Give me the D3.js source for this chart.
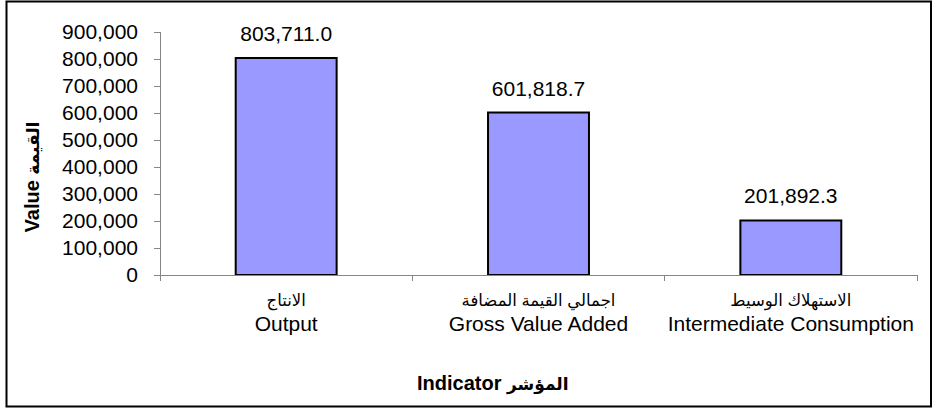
<!DOCTYPE html>
<html>
<head>
<meta charset="utf-8">
<script src="https://cdn.jsdelivr.net/npm/d3@7/dist/d3.min.js"></script>
<style>
  html, body { margin: 0; padding: 0; background: #fff; }
  svg { display: block; }
  text { font-family: "Liberation Sans", Arial, "DejaVu Sans", sans-serif; fill: #000; }
</style>
</head>
<body>
<svg id="chart" width="933" height="408"></svg>
<script>
// Indicators (Arabic / English) and their values
const categoriesAr = ["الانتاج", "اجمالي القيمة المضافة", "الاستهلاك الوسيط"];
const categoriesEn = ["Output", "Gross Value Added", "Intermediate Consumption"];
const values = [803711.0, 601818.7, 201892.3];
const yTicks = [0, 100000, 200000, 300000, 400000, 500000, 600000, 700000, 800000, 900000];
const yTitleEn = "Value", yTitleAr = "القيمة";
const xTitleEn = "Indicator", xTitleAr = "المؤشر";

const svg = d3.select("#chart");
const W = 933, H = 408;
const plot = { left: 160, right: 917, top: 32, bottom: 275 };
const axisColor = "#868686";
const fsText = 21, fsArabic = 16.5, fsTitle = 20, fsTitleAr = 17;

svg.append("rect").attr("width", W).attr("height", H).attr("fill", "#fff");

// Outer frame
svg.append("rect")
  .attr("x", 6.5).attr("y", 1.5)
  .attr("width", 924.5).attr("height", 405)
  .attr("fill", "none").attr("stroke", "#000").attr("stroke-width", 2);

const x = d3.scaleBand()
  .domain(categoriesEn)
  .range([plot.left, plot.right])
  .paddingInner(0.6)
  .paddingOuter(0.3);

const y = d3.scaleLinear()
  .domain([0, 900000])
  .range([plot.bottom, plot.top]);

// Y axis
const yAxis = svg.append("g")
  .attr("transform", `translate(${plot.left},0)`)
  .call(d3.axisLeft(y).tickValues(yTicks).tickSize(6).tickPadding(16)
    .tickFormat(d3.format(",")));
yAxis.select(".domain").remove();
yAxis.selectAll(".tick line").attr("stroke", axisColor).attr("shape-rendering", "crispEdges");
yAxis.selectAll(".tick text")
  .attr("font-size", fsText)
  .attr("font-family", "'Liberation Sans', Arial, sans-serif")
  .attr("fill", "#000");
svg.append("line")
  .attr("x1", plot.left).attr("x2", plot.left)
  .attr("y1", plot.top).attr("y2", plot.bottom + 6)
  .attr("stroke", axisColor).attr("shape-rendering", "crispEdges");

// Bars
svg.append("g").selectAll("rect")
  .data(values)
  .join("rect")
  .attr("x", (d, i) => x(categoriesEn[i]))
  .attr("y", d => y(d))
  .attr("width", x.bandwidth())
  .attr("height", d => y(0) - y(d))
  .attr("fill", "#9999FF")
  .attr("stroke", "#000")
  .attr("stroke-width", 2);

// X axis line and category separators
svg.append("line")
  .attr("x1", plot.left - 6).attr("x2", plot.right)
  .attr("y1", plot.bottom).attr("y2", plot.bottom)
  .attr("stroke", axisColor).attr("shape-rendering", "crispEdges");
const step = x.step();
const sepX = d3.range(categoriesEn.length + 1).map(i => plot.left + i * step);
svg.append("g").selectAll("line")
  .data(sepX)
  .join("line")
  .attr("x1", d => d).attr("x2", d => d)
  .attr("y1", plot.bottom).attr("y2", plot.bottom + 6)
  .attr("stroke", axisColor).attr("shape-rendering", "crispEdges");

// Value labels
svg.append("g").selectAll("text")
  .data(values)
  .join("text")
  .attr("x", (d, i) => x(categoriesEn[i]) + x.bandwidth() / 2)
  .attr("y", d => y(d) - 17)
  .attr("text-anchor", "middle")
  .attr("font-size", fsText)
  .text(d => d3.format(",.1f")(d));

// Category labels: Arabic above English
const catG = svg.append("g");
categoriesEn.forEach((c, i) => {
  const cx = x(c) + x.bandwidth() / 2;
  catG.append("text")
    .attr("x", cx).attr("y", 306)
    .attr("text-anchor", "middle")
    .attr("font-size", fsArabic)
    .text(categoriesAr[i]);
  catG.append("text")
    .attr("x", cx).attr("y", 331)
    .attr("text-anchor", "middle")
    .attr("font-size", fsText)
    .text(c);
});

// Axis titles
const xt = svg.append("text")
  .attr("x", 417).attr("y", 390)
  .attr("font-size", fsTitle)
  .attr("font-weight", "bold")
  .attr("direction", "ltr");
xt.append("tspan").text(xTitleEn + " ");
xt.append("tspan").attr("font-size", fsTitleAr).text(xTitleAr);

const yt = svg.append("text")
  .attr("transform", "translate(39,177) rotate(-90)")
  .attr("text-anchor", "middle")
  .attr("font-size", fsTitle)
  .attr("font-weight", "bold")
  .attr("direction", "ltr");
yt.append("tspan").text(yTitleEn + " ");
yt.append("tspan").attr("font-size", fsTitleAr).text(yTitleAr);
</script>
</body>
</html>
